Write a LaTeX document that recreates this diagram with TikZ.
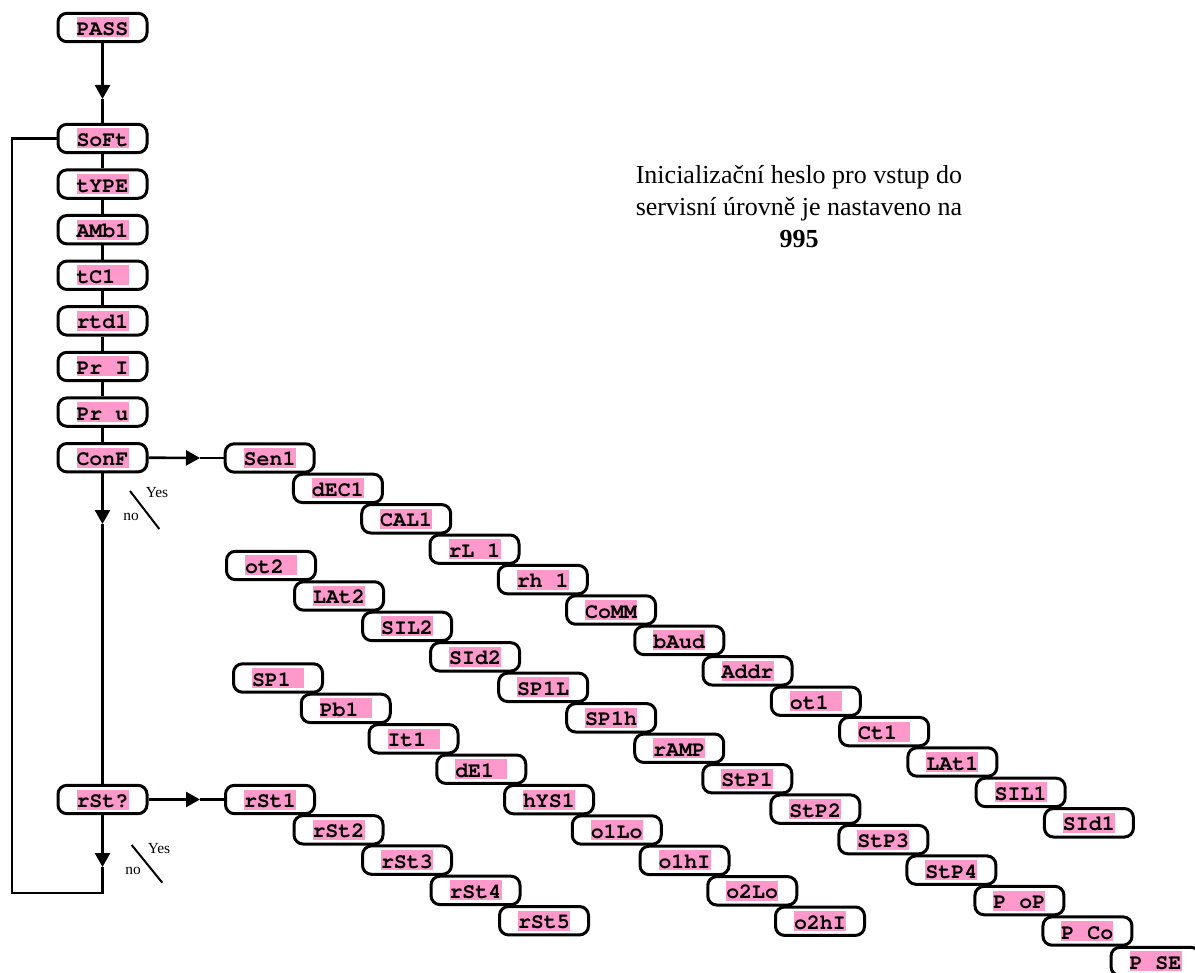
\documentclass[tikz,border=0pt]{standalone}
\usepackage[T1]{fontenc}
\usepackage{fontspec}
\setmainfont{Liberation Serif}
\usetikzlibrary{arrows.meta}
\definecolor{hlpink}{RGB}{255,153,204}
\newcommand\courbold{\fontencoding{T1}\fontfamily{pcr}\fontseries{b}\fontshape{n}\fontsize{10.8}{12}\selectfont}
\newcommand\pinkcell[1]{{\setlength{\fboxsep}{0pt}\colorbox{hlpink}{\makebox[26pt][l]{\rule[-1pt]{0pt}{10pt}#1}}}}
\tikzset{
  bx/.style={draw, rounded corners=4.5pt, minimum width=44.5pt, minimum height=14.2pt,
    inner sep=0pt, fill=white, line width=1.5pt, font=\courbold},
  conn/.style={line width=1.3pt},
  arr/.style={conn, -{Triangle[length=7pt,width=7.5pt]}},
  slash/.style={line width=1pt},
  small/.style={font=\fontsize{7.7}{9}\selectfont, inner sep=0pt}
}
\begin{document}
\begin{tikzpicture}[x=0.5pt,y=-0.5pt]
\useasboundingbox (0,0) rectangle (1195,973);
% left column
\node[bx] (PASS) at (102.5,27.5) {\pinkcell{PASS}};
\foreach \t [count=\i from 0] in {SoFt,tYPE,AMb1,tC1,rtd1,Pr I,Pr u,ConF}
  \node[bx] (L\i) at (102.5,{138.5+45.6*\i}) {\pinkcell{\t}};
\node[bx] (RST) at (102.5,799.5) {\pinkcell{rSt?}};
% staircases
\foreach \t [count=\i from 0] in {Sen1,dEC1,CAL1,rL 1,rh 1,CoMM,bAud,Addr,ot1,Ct1,LAt1,SIL1,SId1}
  \node[bx] (A\i) at ({269.7+68.27*\i},{458+30.4*\i}) {\pinkcell{\t}};
\foreach \t [count=\i from 0] in {ot2,LAt2,SIL2,SId2,SP1L,SP1h,rAMP,StP1,StP2,StP3,StP4,P oP,P Co,P SE}
  \node[bx] (B\i) at ({271+68.04*\i},{565.5+30.46*\i}) {\pinkcell{\t}};
\foreach \t [count=\i from 0] in {SP1,Pb1,It1,dE1,hYS1,o1Lo,o1hI,o2Lo,o2hI}
  \node[bx] (C\i) at ({278+67.75*\i},{678+30.4*\i}) {\pinkcell{\t}};
\foreach \t [count=\i from 0] in {rSt1,rSt2,rSt3,rSt4,rSt5}
  \node[bx] (D\i) at ({270+68.5*\i},{799.5+30.3*\i}) {\pinkcell{\t}};
% connectors
\coordinate (a1) at (102.5,99);
\coordinate (a2) at (200,458);
\coordinate (a3) at (102.5,524);
\coordinate (a4) at (200,799.5);
\coordinate (a5) at (102.5,867);
\coordinate (c1) at (102.5,893);
\coordinate (c2) at (12,893);
\coordinate (c3) at (12,138.5);
\draw[arr] (PASS) -- (a1);
\draw[conn] (a1) -- (L0);
\foreach \i [evaluate=\i as \j using int(\i+1)] in {0,...,6}
  \draw[conn] (L\i) -- (L\j);
\draw[arr] (L7.east) -- (a2);
\draw[conn] (a2) -- (A0.west);
\draw[arr] (L7) -- (a3);
\draw[conn] (a3) -- (RST);
\draw[arr] (RST.east) -- (a4);
\draw[conn] (a4) -- (D0.west);
\draw[arr] (RST) -- (a5);
\draw[conn] (a5) -- (c1) -- (c2) -- (c3) -- (L0.west);
% switches
\draw[slash] (130,491) -- (159.3,529);
\node[small] (y1) at (157,493) {Yes};
\node[small] (n1) at (131,517) {no};
\draw[slash] (131.7,845) -- (162.3,882.7);
\node[small] (y2) at (159,848.5) {Yes};
\node[small] (n2) at (133,870.5) {no};
% note
\node[align=center, font=\fontsize{13}{16}\selectfont, inner sep=0pt] (note) at (799,207)
  {Inicializační heslo pro vstup do\\servisní úrovně je nastaveno na\\\textbf{995}};
\end{tikzpicture}
\end{document}
